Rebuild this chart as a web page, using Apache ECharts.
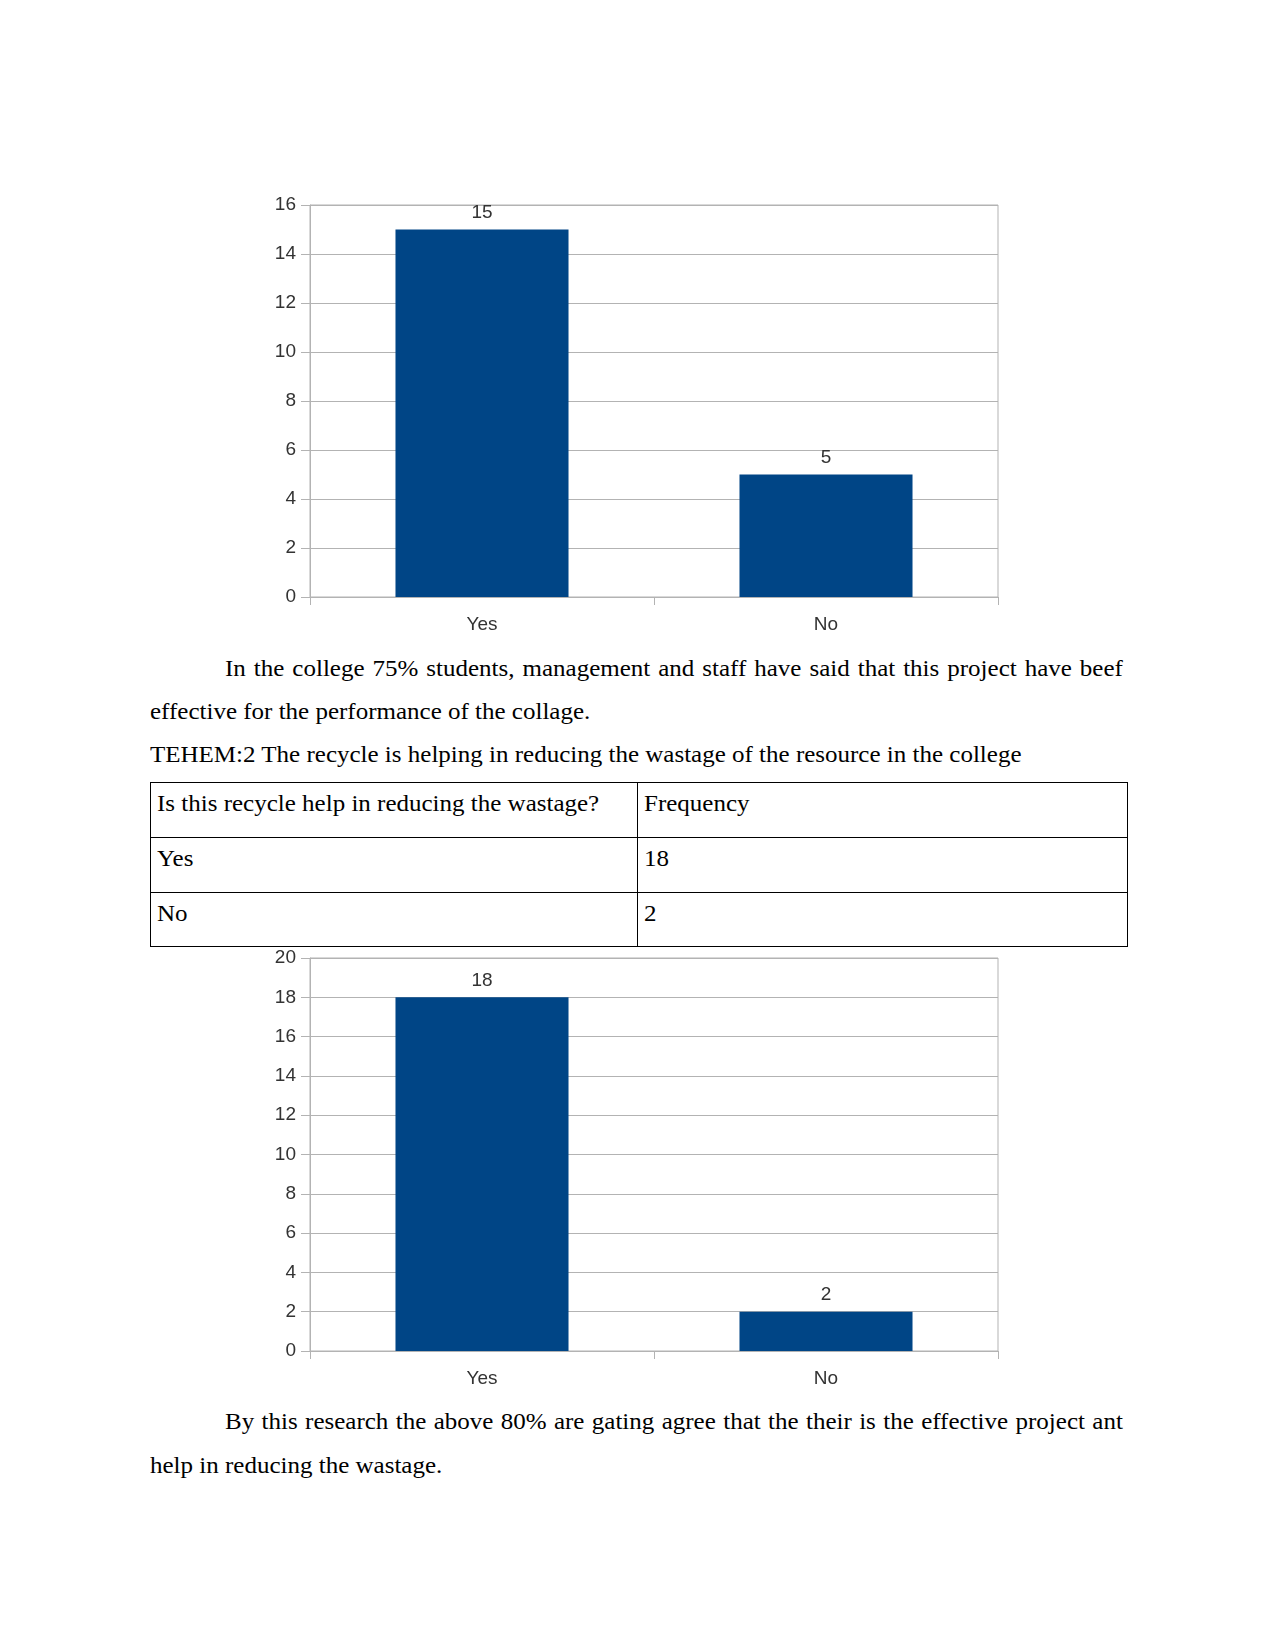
<!DOCTYPE html>
<html>
<head>
<meta charset="utf-8">
<script src="https://cdn.jsdelivr.net/npm/echarts@6/dist/echarts.min.js"></script>
<style>
  html, body { margin: 0; padding: 0; background: #fff; }
  body { width: 1275px; height: 1651px; position: relative; overflow: hidden; }
  .t { position: absolute; font-family: "Liberation Serif", "Times New Roman", serif; font-size: 23px; line-height: 23px; color: #000; white-space: nowrap; transform: scaleX(1.087); transform-origin: 0 0; }
  .j { white-space: normal; text-align: justify; text-align-last: justify; }
  .chart { position: absolute; }
  table { position: absolute; left: 150px; top: 782px; border-collapse: collapse; font-family: "Liberation Serif", "Times New Roman", serif; font-size: 23px; line-height: 23px; }
  td { border: 1.3px solid #000; vertical-align: top; padding: 9px 0 0 6px; box-sizing: border-box; }
  td span { display: inline-block; transform: scaleX(1.087); transform-origin: 0 0; white-space: nowrap; }
</style>
</head>
<body>
<div id="c1" class="chart" style="left:250px;top:180px;width:780px;height:460px;"></div>

<div class="t j" style="left:225px;top:657px;width:826px;">In the college 75% students, management and staff have said that this project have beef</div>
<div class="t" style="left:150px;top:700px;">effective for the performance of the collage.</div>
<div class="t" style="left:150px;top:743px;">TEHEM:2 The recycle is helping in reducing the wastage of the resource in the college</div>

<table>
  <tr style="height:55px;"><td style="width:487px;"><span>Is this recycle help in reducing the wastage?</span></td><td style="width:490px;"><span>Frequency</span></td></tr>
  <tr style="height:55px;"><td><span>Yes</span></td><td><span>18</span></td></tr>
  <tr style="height:54px;"><td><span>No</span></td><td><span>2</span></td></tr>
</table>

<div id="c2" class="chart" style="left:250px;top:933px;width:780px;height:460px;"></div>

<div class="t j" style="left:225px;top:1410px;width:826px;">By this research the above 80% are gating agree that the their is the effective project ant</div>
<div class="t" style="left:150px;top:1454px;">help in reducing the wastage.</div>

<script>
const categories = ['Yes', 'No'];
const chart1Values = [15, 5];
const chart2Values = [18, 2];
const chart1Max = 16;
const chart2Max = 20;
const tickStep = 2;

function makeOption(values, maxVal, gridHeight) {
  return {
    animation: false,
    grid: { left: 60, top: 25, width: 688, height: gridHeight, show: true, borderColor: '#b3b3b3', borderWidth: 1, containLabel: false },
    xAxis: {
      type: 'category',
      data: categories,
      axisLine: { lineStyle: { color: '#b3b3b3', width: 1 } },
      axisTick: { show: true, length: 8, lineStyle: { color: '#b3b3b3' } },
      axisLabel: { color: '#333', fontFamily: 'Liberation Sans', fontSize: 19, margin: 18 },
      splitLine: { show: false }
    },
    yAxis: {
      type: 'value',
      min: 0, max: maxVal, interval: tickStep,
      axisLine: { show: true, lineStyle: { color: '#b3b3b3', width: 1 } },
      axisTick: { show: true, length: 9, lineStyle: { color: '#b3b3b3' } },
      axisLabel: { color: '#333', fontFamily: 'Liberation Sans', fontSize: 19, margin: 14 },
      splitLine: { show: true, lineStyle: { color: '#b3b3b3', width: 1 } }
    },
    series: [{
      type: 'bar',
      data: values,
      barWidth: '50.3%',
      itemStyle: { color: '#004586' },
      label: { show: true, position: 'top', distance: 7, color: '#333', fontFamily: 'Liberation Sans', fontSize: 19 }
    }]
  };
}

const c1 = echarts.init(document.getElementById('c1'), null, { renderer: 'canvas' });
c1.setOption(makeOption(chart1Values, chart1Max, 392));
const c2 = echarts.init(document.getElementById('c2'), null, { renderer: 'canvas' });
c2.setOption(makeOption(chart2Values, chart2Max, 393));
</script>
</body>
</html>
